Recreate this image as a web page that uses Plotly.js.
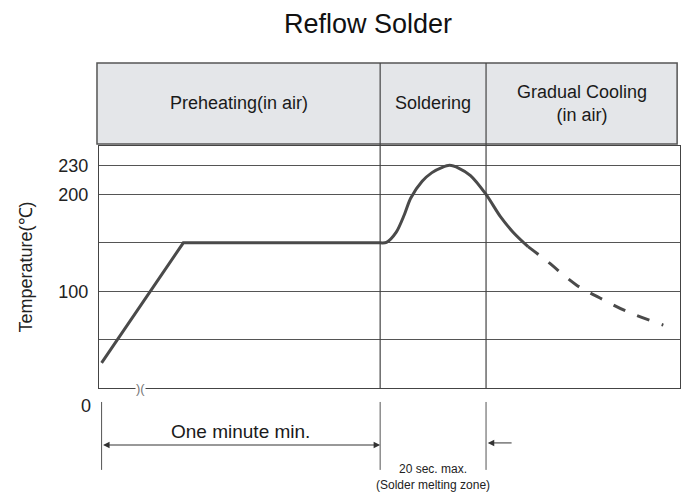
<!DOCTYPE html>
<html>
<head>
<meta charset="utf-8">
<script src="https://cdn.plot.ly/plotly-3.0.1.min.js"></script>
<style>html,body{margin:0;padding:0;background:#fff;}#chart{width:684px;height:494px;}</style>
</head>
<body>
<div id="chart"></div>
<script>
// ---- data (time in arbitrary units, temperature in °C) ----
const preheatTime = [0, 14.2, 48.4];
const preheatTemp = [26, 150, 150];
const solderTime = [48.4, 49.5, 51.2, 52.6, 53.7, 55.7, 57.4, 59.1, 60.45, 62.1, 64.1, 66.8, 69.3, 71.5, 74.1];
const solderTemp = [150, 150.5, 161, 179, 196, 213.5, 222.5, 227.6, 230, 227, 219.5, 200, 177, 161, 146];
const coolTime = [74.1, 77.4, 82.6, 86.6, 91.3, 97.6];
const coolTemp = [146, 131, 106, 93, 79, 65];
const tempTickVals = [50, 100, 150, 200, 230];
const tempTickText = ['', '100', '', '200', '230'];
const phaseBounds = [48.4, 66.8];
const phaseLabels = ['Preheating(in air)', 'Soldering', 'Gradual Cooling<br>(in air)'];
const chartTitle = 'Reflow Solder';
const yTitle = 'Temperature(℃)';
const spanLabel = 'One minute min.';
const meltLabel = '20 sec. max.<br>(Solder melting zone)';

// ---- layout helpers ----
const xRange = [-0.45, 100.5];
const headerX = [-0.8, 100.0];
const plotTop = 0.7446;      // paper fraction of y-domain top
const headerBottom = 0.7508;
const FONT = 'Liberation Sans, Arial, sans-serif';
const INK = '#4a4a4a';
const toPaperX = t => (t - xRange[0]) / (xRange[1] - xRange[0]);

const traces = [
  {x: preheatTime, y: preheatTemp, mode: 'lines', line: {color: INK, width: 3}, hoverinfo: 'skip'},
  {x: solderTime, y: solderTemp, mode: 'lines', line: {color: INK, width: 3, shape: 'spline', smoothing: 0.8}, hoverinfo: 'skip'},
  {x: coolTime, y: coolTemp, mode: 'lines', line: {color: INK, width: 3, shape: 'spline', smoothing: 1, dash: '13px,13px'}, hoverinfo: 'skip'}
];

const headerLeft = toPaperX(headerX[0]);
const headerRight = toPaperX(headerX[1]);
const shapes = [
  {type: 'rect', xref: 'paper', yref: 'paper', x0: headerLeft, x1: headerRight, y0: headerBottom, y1: 1,
   fillcolor: '#e4e6e9', line: {color: '#555', width: 1.5}, layer: 'below'}
];
phaseBounds.forEach(b => {
  const p = toPaperX(b);
  shapes.push({type: 'line', xref: 'paper', yref: 'paper', x0: p, x1: p, y0: 0, y1: 1, line: {color: '#444', width: 1.2}});
});
[0].concat(phaseBounds).forEach(b => {
  const p = toPaperX(b);
  shapes.push({type: 'line', xref: 'paper', yref: 'paper', x0: p, x1: p, y0: -0.043, y1: -0.252, line: {color: '#555', width: 1}});
});

const headerCenters = [
  (headerX[0] + phaseBounds[0]) / 2,
  (phaseBounds[0] + phaseBounds[1]) / 2,
  (phaseBounds[1] + headerX[1]) / 2
];
const annotations = phaseLabels.map((txt, i) => ({
  xref: 'paper', yref: 'paper', x: toPaperX(headerCenters[i]), y: (headerBottom + 1) / 2,
  text: txt, showarrow: false, xanchor: 'center', yanchor: 'middle',
  font: {family: FONT, size: 18, color: '#1a1a1a'}
}));
annotations.push(
  {xref: 'paper', yref: 'y', x: -0.0103, y: 0, yshift: -18, xanchor: 'right', yanchor: 'middle',
   text: '0', showarrow: false, font: {family: FONT, size: 18, color: '#222'}},
  {xref: 'x', yref: 'y', x: 6.7, y: 0, text: ')(', showarrow: false, bgcolor: '#fff',
   font: {family: FONT, size: 13, color: '#777'}, borderpad: 0},
  {xref: 'x', yref: 'paper', x: phaseBounds[0], y: -0.1754, ax: 0, axref: 'x', ay: 0, ayref: 'pixel',
   text: '', showarrow: true, arrowhead: 2, arrowside: 'end+start', arrowsize: 1.3, arrowwidth: 1, arrowcolor: '#333'},
  {xref: 'x', yref: 'paper', x: phaseBounds[0] / 2, y: -0.135, text: spanLabel, showarrow: false,
   xanchor: 'center', yanchor: 'middle', font: {family: FONT, size: 19, color: '#1a1a1a'}},
  {xref: 'x', yref: 'paper', x: phaseBounds[1] + 0.3, y: -0.169, ax: 71.5, axref: 'x', ay: 0, ayref: 'pixel',
   text: '', showarrow: true, arrowhead: 2, arrowsize: 1.3, arrowwidth: 1, arrowcolor: '#333'},
  {xref: 'x', yref: 'paper', x: (phaseBounds[0] + phaseBounds[1]) / 2, y: -0.275, text: meltLabel, showarrow: false,
   xanchor: 'center', yanchor: 'middle', font: {family: FONT, size: 12, color: '#222'}}
);

const layout = {
  width: 684, height: 494,
  margin: {l: 99, r: 4, t: 63, b: 106},
  paper_bgcolor: '#fff', plot_bgcolor: '#fff',
  showlegend: false,
  title: {text: chartTitle, xref: 'paper', x: 0.463, xanchor: 'center', yref: 'container', y: 0.953, yanchor: 'middle',
          font: {family: FONT, size: 27, color: '#111'}},
  xaxis: {range: xRange, showgrid: false, zeroline: false, showticklabels: false, ticks: '',
          showline: true, mirror: true, linecolor: '#444', linewidth: 1.2, fixedrange: true},
  yaxis: {range: [0, 250], domain: [0, plotTop], tickvals: tempTickVals, ticktext: tempTickText,
          showgrid: true, gridcolor: '#555', gridwidth: 1, zeroline: false, ticks: '', ticklabelstandoff: 6,
          showline: true, mirror: true, linecolor: '#444', linewidth: 1.2,
          tickfont: {family: FONT, size: 18, color: '#222'},
          title: {text: yTitle, standoff: 20, font: {family: FONT, size: 18, color: '#222'}}, fixedrange: true},
  shapes: shapes,
  annotations: annotations
};

Plotly.newPlot('chart', traces, layout, {displayModeBar: false, staticPlot: true});
</script>
</body>
</html>
